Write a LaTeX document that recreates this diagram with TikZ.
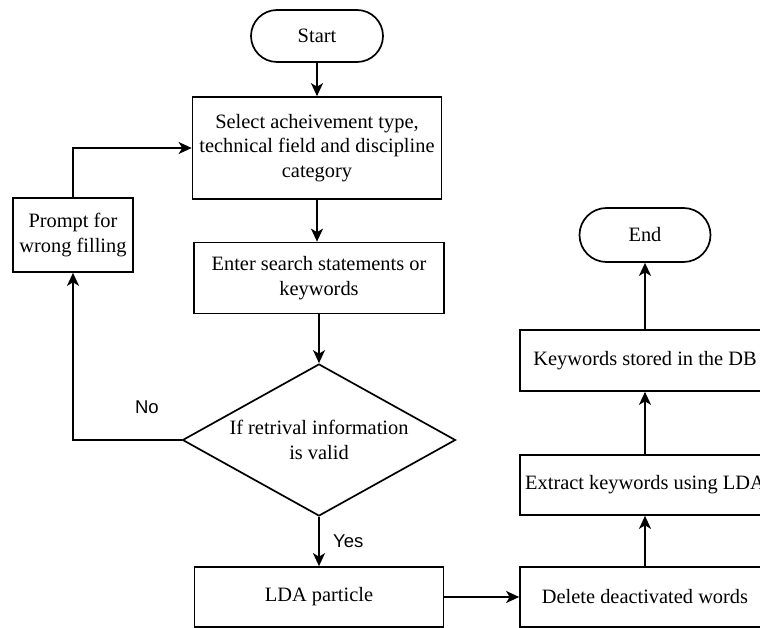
\documentclass[tikz,border=0pt]{standalone}
\usepackage{fontspec}
\setmainfont{Liberation Serif}
\newfontfamily\labfont{Liberation Sans}
\usetikzlibrary{shapes.geometric,shapes.misc,arrows.meta}
\begin{document}
\begin{tikzpicture}[x=1pt,y=-1pt,
  txt/.style={font=\fontsize{20.4}{24.5}\selectfont},
  box/.style={draw,line width=1.7pt,minimum width=250pt,align=center,inner sep=0pt,txt},
  term/.style={draw,line width=1.7pt,rounded rectangle,inner sep=0pt,txt},
  dia/.style={draw,line width=1.7pt,diamond,aspect=1.8,minimum width=273pt,minimum height=152pt,align=center,inner sep=0pt,txt},
  arr/.style={line width=1.7pt,-{Stealth[length=13pt,width=12pt,inset=3.5pt]}},
  lab/.style={font=\labfont\fontsize{18.5}{20}\selectfont}]
\useasboundingbox (0,0) rectangle (760,628);
\clip (0,0) rectangle (760,628);
\node[term,minimum width=132pt,minimum height=52pt] (start) at (317,36) {Start};
\node[box,minimum width=249pt,minimum height=102pt] (sel) at (317,148) {Select acheivement type,\\technical field and discipline\\category};
\node[box,minimum width=120pt,minimum height=74pt] (prompt) at (73,235) {Prompt for\\wrong filling};
\node[box,minimum width=250pt,minimum height=71pt] (enter) at (319,278) {Enter search statements or\\keywords};
\node[dia] (dec) at (319,440) {If retrival information\\is valid};
\node[box,minimum width=249pt,minimum height=60pt] (lda) at (319,597) {LDA particle};
\node[box,minimum height=60pt] (del) at (645,597) {Delete deactivated words};
\node[box,minimum height=60pt] (ext) at (645,485) {Extract keywords using LDA};
\node[box,minimum height=61pt] (kw) at (645,360.5) {Keywords stored in the DB};
\node[term,minimum width=131pt,minimum height=54pt] (end) at (645,235) {End};
\draw[arr] (start) -- (sel);
\draw[arr] (sel.south) -- (sel.south |- enter.north);
\draw[arr] (enter) -- (dec);
\draw[arr] (dec) -- node[lab,anchor=west,xshift=10pt] {Yes} (lda);
\draw[arr] (dec.west) -| node[lab,pos=0.16,above=22pt] {No} (prompt.south);
\draw[arr] (prompt.north) |- (sel.west);
\draw[arr] (lda) -- (del);
\draw[arr] (del) -- (ext);
\draw[arr] (ext) -- (kw);
\draw[arr] (kw) -- (end);
\end{tikzpicture}
\end{document}
